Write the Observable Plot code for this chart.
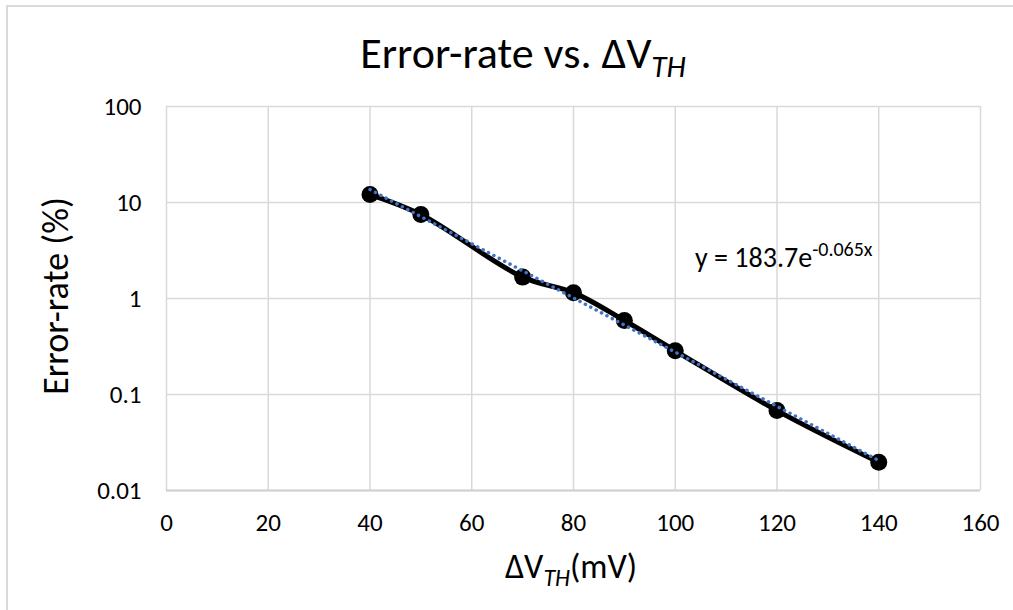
<!DOCTYPE html>
<html>
<head>
<meta charset="utf-8">
<script src="https://cdn.jsdelivr.net/npm/d3@7"></script>
<script src="https://cdn.jsdelivr.net/npm/@observablehq/plot@0.6"></script>
<style>
  html, body { margin: 0; padding: 0; background: #fff; }
  svg text { font-family: "Carlito", "Lato", "Liberation Sans", sans-serif; }
</style>
</head>
<body>
<div id="chart"></div>
<script>
// Data
const deltaVth = [40, 50, 70, 80, 90, 100, 120, 140];          // mV
const errorRate = [12.1, 7.5, 1.67, 1.15, 0.59, 0.285, 0.068, 0.0197]; // %
// Exponential trendline endpoints (y = 183.7 e^(-0.065x)) on log axis
const trendX = [40, 140];
const trendY = [13.65, 0.0205];
const xTicks = [0, 20, 40, 60, 80, 100, 120, 140, 160];
const yTicks = [0.01, 0.1, 1, 10, 100];
const yTickLabels = ["0.01", "0.1", "1", "10", "100"];
const eqAnchor = {x: 104, y: 2.4};

const points = deltaVth.map((x, i) => ({x, y: errorRate[i]}));
const trend = trendX.map((x, i) => ({x, y: trendY[i]}));

const W = 1013, H = 610;
const plot = Plot.plot({
  width: W,
  height: H,
  marginLeft: 166,
  marginRight: 33,
  marginTop: 106,
  marginBottom: 120,
  style: {fontFamily: '"Carlito", "Lato", "Liberation Sans", sans-serif', background: "#fff"},
  x: {domain: [0, 160]},
  y: {type: "log", domain: [0.01, 100]},
  marks: [
    Plot.gridX(xTicks, {stroke: "#d9d9d9", strokeOpacity: 1, strokeWidth: 1.5}),
    Plot.gridY(yTicks, {stroke: "#d9d9d9", strokeOpacity: 1, strokeWidth: 1.5}),
    Plot.ruleY([0.01], {stroke: "#d0d0d0", strokeWidth: 2}),
    Plot.axisX(xTicks, {tickSize: 0, tickPadding: 23, fontSize: 25, fill: "#000", label: null}),
    Plot.axisY(yTicks, {tickSize: 0, tickPadding: 25, fontSize: 25, fill: "#000", label: null,
      tickFormat: (d) => yTickLabels[yTicks.indexOf(d)]}),
    Plot.line(points, {x: "x", y: "y", stroke: "#000", strokeWidth: 5, curve: "catmull-rom"}),
    Plot.dot(points, {x: "x", y: "y", r: 8.5, fill: "#000", stroke: "none"}),
    Plot.line(trend, {x: "x", y: "y", stroke: "#4472C4", strokeWidth: 3.5, strokeDasharray: "0.1 6", strokeLinecap: "round"})
  ]
});

const svg = d3.select(plot);
// outer chart border
svg.insert("rect", ":first-child")
  .attr("x", 7).attr("y", 6).attr("width", W + 20).attr("height", H + 20)
  .attr("fill", "none").attr("stroke", "#d9d9d9").attr("stroke-width", 2);

// Title
const title = svg.append("text")
  .attr("x", 523).attr("y", 68).attr("text-anchor", "middle")
  .attr("font-size", 44).attr("fill", "#000");
title.append("tspan").text("Error-rate vs. ΔV");
title.append("tspan").attr("font-style", "italic").attr("font-size", 31).attr("dy", 9).text("TH");

// Y axis label
svg.append("text")
  .attr("transform", "translate(68,296) rotate(-90)")
  .attr("text-anchor", "middle").attr("font-size", 36).attr("fill", "#000")
  .text("Error-rate (%)");

// X axis label
const xl = svg.append("text")
  .attr("x", 571).attr("y", 578).attr("text-anchor", "middle")
  .attr("font-size", 34).attr("fill", "#000");
xl.append("tspan").text("ΔV");
xl.append("tspan").attr("font-style", "italic").attr("font-size", 24).attr("dy", 8).text("TH");
xl.append("tspan").attr("dy", -8).text("(mV)");

// Trendline equation
const xs = plot.scale("x"), ys = plot.scale("y");
const eq = svg.append("text")
  .attr("x", xs.apply(eqAnchor.x)).attr("y", ys.apply(eqAnchor.y) + 6)
  .attr("text-anchor", "start")
  .attr("font-size", 28).attr("fill", "#000");
eq.append("tspan").text("y = 183.7e");
eq.append("tspan").attr("font-size", 20).attr("dy", -11).text("-0.065x");

document.getElementById("chart").appendChild(plot);
</script>
</body>
</html>
